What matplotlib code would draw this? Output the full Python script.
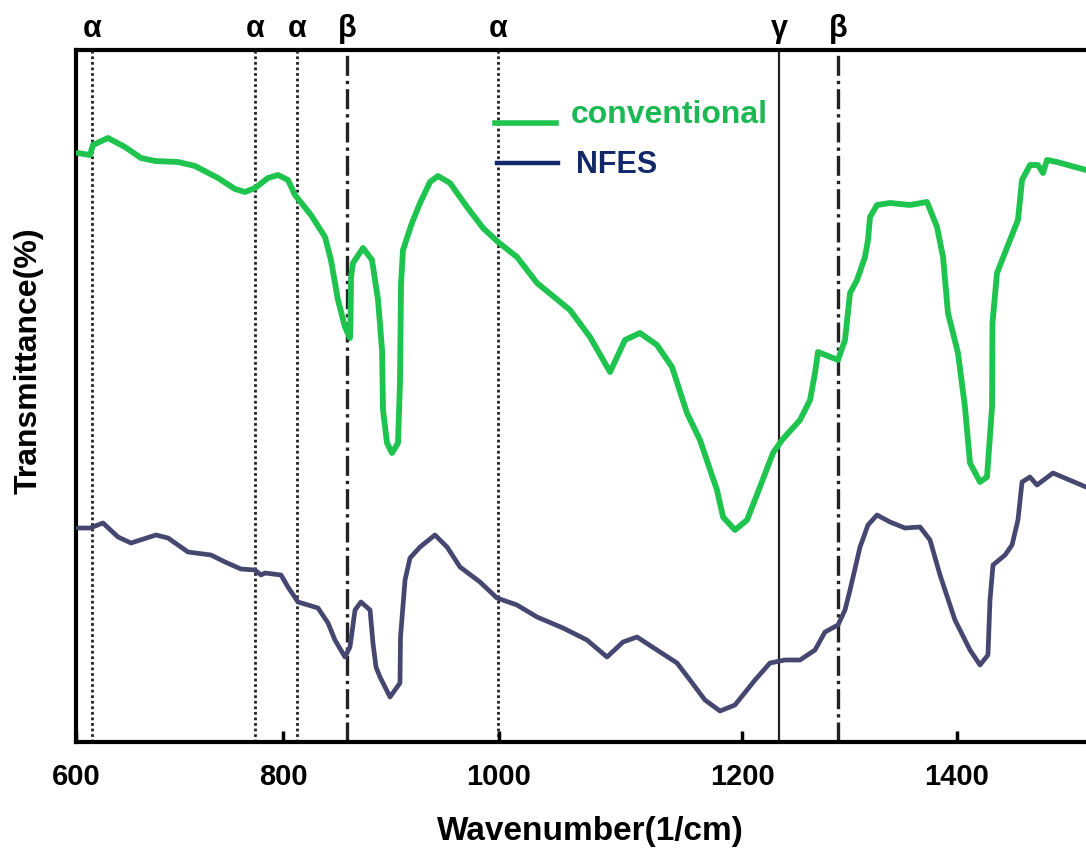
import matplotlib
matplotlib.use("Agg")
import numpy as np
import matplotlib.pyplot as plt
from matplotlib.lines import Line2D

plt.rcParams['font.family'] = ['Liberation Sans', 'DejaVu Sans']
plt.rcParams['font.weight'] = 'bold'

# ---- data ----
conv_x = [601.9, 613.5, 616.4, 630.9, 647.3, 662.8, 676.3, 698.6, 715.0, 737.2, 753.6, 763.3,
          772.9, 785.5, 795.2, 804.6, 811.1, 825.9, 838.9, 844.4, 850.9, 857.4, 862.0, 862.5,
          863.0, 864.8, 874.1, 882.4, 888.0, 891.7, 892.6, 896.3, 900.9, 906.5, 908.3, 909.3,
          911.1, 919.4, 926.9, 936.1, 943.5, 954.6, 970.4, 985.2, 999.1, 1014.8, 1031.3, 1058.4,
          1074.9, 1091.4, 1103.7, 1116.0, 1130.0, 1142.4, 1154.7, 1165.4, 1179.4, 1184.4, 1194.2,
          1204.7, 1216.7, 1228.8, 1237.2, 1254.0, 1263.3, 1267.9, 1270.7, 1289.3, 1295.8, 1300.5,
          1307.0, 1314.4, 1317.2, 1319.1, 1325.6, 1337.7, 1356.3, 1372.1, 1381.4, 1387.0, 1391.6,
          1400.9, 1407.4, 1412.1, 1421.4, 1427.9, 1432.6, 1433.0, 1437.2, 1449.3, 1456.7, 1460.5,
          1467.9, 1475.3, 1480.0, 1483.7, 1493.0, 1520.0]
conv_y = [58.9, 58.7, 59.7, 60.4, 59.5, 58.4, 58.1, 58.0, 57.6, 56.4, 55.3, 55.0,
          55.4, 56.4, 56.7, 56.2, 54.7, 52.7, 50.5, 48.2, 44.2, 41.5, 40.4, 42.2,
          46.5, 47.9, 49.4, 48.2, 44.2, 39.2, 33.2, 29.9, 28.9, 29.9, 35.9, 45.9,
          49.2, 51.9, 53.9, 56.0, 56.6, 55.9, 53.5, 51.4, 50.0, 48.5, 45.9, 43.2,
          40.5, 37.0, 40.2, 40.9, 39.7, 37.5, 32.9, 30.2, 25.2, 22.5, 21.2,
          22.2, 25.5, 28.9, 30.2, 32.2, 34.2, 36.9, 39.0, 38.2, 40.2, 44.9,
          46.2, 48.5, 50.2, 52.5, 53.7, 53.9, 53.7, 54.0, 51.5, 48.5, 42.9,
          38.9, 33.5, 27.9, 26.0, 26.5, 33.5, 41.9, 46.9, 50.2, 52.2, 56.2,
          57.7, 57.7, 56.9, 58.2, 58.0, 57.2]

nfes_x = [601.9, 613.5, 626.1, 640.6, 653.1, 677.3, 688.9, 708.2, 730.4, 744.0, 759.4, 772.9,
          778.7, 782.6, 798.1, 804.6, 813.9, 832.4, 841.7, 848.1, 857.4, 862.0, 866.7, 872.2,
          880.6, 883.3, 886.1, 889.8, 899.1, 908.3, 908.8, 913.0, 917.6, 926.9, 940.7, 951.9,
          963.9, 982.4, 998.1, 1014.8, 1031.3, 1052.7, 1072.4, 1088.9, 1102.1, 1113.6, 1130.0,
          1146.5, 1157.2, 1169.5, 1181.9, 1194.2, 1212.1, 1226.0, 1240.0, 1254.0, 1267.9, 1277.2,
          1289.3, 1295.8, 1300.5, 1309.8, 1317.2, 1325.6, 1337.7, 1351.6, 1365.6, 1374.9, 1384.2,
          1398.1, 1412.1, 1421.4, 1428.8, 1430.7, 1433.5, 1444.7, 1451.2, 1456.7, 1460.5, 1467.9,
          1474.4, 1489.3, 1520.0]
nfes_y = [21.4, 21.4, 21.9, 20.5, 19.9, 20.7, 20.4, 19.0, 18.7, 18.0, 17.3, 17.2,
          16.7, 16.9, 16.7, 15.5, 14.0, 13.4, 11.9, 10.2, 8.5, 9.5, 13.2, 14.0,
          13.2, 9.9, 7.5, 6.5, 4.5, 5.9, 10.5, 16.2, 18.4, 19.5, 20.7, 19.5,
          17.5, 16.0, 14.4, 13.7, 12.5, 11.4, 10.2, 8.5, 10.0, 10.5, 9.2,
          7.9, 6.2, 4.2, 3.1, 3.7, 6.2, 7.9, 8.2, 8.2, 9.2, 11.0,
          11.7, 13.2, 15.2, 19.5, 21.7, 22.7, 22.0, 21.4, 21.5, 20.2, 16.7,
          12.2, 9.2, 7.7, 8.7, 14.2, 17.7, 18.7, 19.7, 22.2, 26.0, 26.5,
          25.7, 26.9, 25.5]

marker_pos = [615.5, 772.9, 813.0, 859.3, 999.1, 1234.4, 1289.3]
marker_lbl = ['α', 'α', 'α', 'β', 'α', 'γ', 'β']

xticks = [600, 800, 1000, 1200, 1400]
# axis as drawn in the source figure: tick marks are not evenly spaced
axis_knots = [600, 800, 1000, 1200, 1400]
axis_frac = [0.0, 207 / 1010, 423 / 1010, 666 / 1010, 881 / 1010]

series_names = ['conventional', 'NFES']

# ---- scale reproducing the source axis ----
slope_end = (axis_frac[-1] - axis_frac[-2]) / (axis_knots[-1] - axis_knots[-2])


def fwd(x):
    x = np.asarray(x, dtype=float)
    y = np.interp(x, axis_knots, axis_frac)
    y = np.where(x > axis_knots[-1], axis_frac[-1] + (x - axis_knots[-1]) * slope_end, y)
    y = np.where(x < axis_knots[0], axis_frac[0] + (x - axis_knots[0]) * (axis_frac[1] / 200), y)
    return y


def inv(y):
    y = np.asarray(y, dtype=float)
    x = np.interp(y, axis_frac, axis_knots)
    x = np.where(y > axis_frac[-1], axis_knots[-1] + (y - axis_frac[-1]) / slope_end, x)
    x = np.where(y < axis_frac[0], axis_knots[0] + (y - axis_frac[0]) / (axis_frac[1] / 200), x)
    return x


# ---- style ----
GREEN = '#1fc44e'
NAVY_CURVE = '#454770'
NAVY_LEG = '#13286b'
GREEN_TXT = '#1bb854'

fig = plt.figure(figsize=(10.86, 8.52), dpi=100)
ax = fig.add_axes([76/1086, 110/852, 1010/1086, 692/852])
ax.set_xscale('function', functions=(fwd, inv))

styles = {'α': dict(ls=(0, (1, 1)), lw=2.0, color='#222222'),
          'β': dict(ls=(0, (6, 1.5, 1, 1.5)), lw=2.4, color='#222222'),
          'γ': dict(ls='-', lw=1.6, color='#222222')}
for xp, lb in zip(marker_pos, marker_lbl):
    ax.axvline(xp, zorder=1, **styles[lb])
    ax.text(xp, 1.031, lb, transform=ax.get_xaxis_transform(), ha='center', va='center',
            fontsize=22, fontweight='bold', color='black', clip_on=False)

ax.plot(conv_x, conv_y, color=GREEN, lw=4.2, solid_joinstyle='round', solid_capstyle='round', zorder=3)
ax.plot(nfes_x, nfes_y, color=NAVY_CURVE, lw=3.4, solid_joinstyle='round', solid_capstyle='round', zorder=3)

# legend (manual)
ax.add_line(Line2D([0.415, 0.475], [0.894, 0.894], transform=ax.transAxes, color=GREEN, lw=4.0))
ax.add_line(Line2D([0.417, 0.477], [0.837, 0.837], transform=ax.transAxes, color=NAVY_LEG, lw=3.2))
ax.text(0.490, 0.906, series_names[0], transform=ax.transAxes, ha='left', va='center',
        fontsize=23, fontweight='bold', color=GREEN_TXT)
ax.text(0.495, 0.834, series_names[1], transform=ax.transAxes, ha='left', va='center',
        fontsize=22, fontweight='bold', color=NAVY_LEG)

ax.set_xlim(600, 1520)
ax.set_ylim(0, 69.2)
ax.set_xticks(xticks)
ax.set_xticks([], minor=True)
ax.set_xticklabels([str(t) for t in xticks])
ax.set_yticks([])
ax.tick_params(axis='x', direction='in', length=8, width=2.5, pad=15, labelsize=21)
for lab in ax.get_xticklabels():
    lab.set_fontweight('bold')
ax.spines['right'].set_visible(False)
for s in ['left', 'top', 'bottom']:
    ax.spines[s].set_linewidth(3)

ax.set_xlabel('Wavenumber(1/cm)', fontsize=24, fontweight='bold')
ax.xaxis.label.set_va('center')
ax.xaxis.set_label_coords(0.509, -0.13)
ax.set_ylabel('Transmittance(%)', fontsize=23, fontweight='bold')
ax.yaxis.label.set_va('center')
ax.yaxis.set_label_coords(-0.0465, 0.551)

fig.savefig('out.png', dpi=100)
